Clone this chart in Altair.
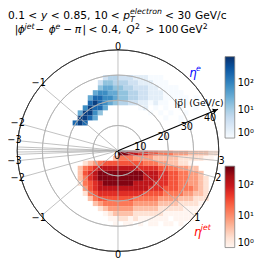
import math
import altair as alt
import pandas as pd

# ---------------- data ----------------
# 2D histogram cells: columns are 2 GeV wide in p_z starting at -20 GeV,
# rows are 2 GeV high in p_T.  Each row: (pT lower edge, first column, level digits)
ELECTRON_ROWS = [
    (10, 1, "898000000000000000000101"),
    (12, 2, "99860000000000000100100"),
    (14, 2, "699750000000001010100100"),
    (16, 3, "79886000000120101001001"),
    (18, 4, "898765443322121101010"),
    (20, 4, "688776554433222111110101"),
    (22, 5, "677665544332221111"),
    (24, 6, "5665544333221111"),
    (26, 6, "35544433222111"),
    (28, 7, "344333222111"),
]
JET_ROWS = [
    (0, 10, "99887766555444333322"),
    (2, 9, "35554444333332222211"),
    (4, 3, "2345666666665554433221"),
    (6, 2, "356788888888777766554433"),
    (8, 2, "3678999999999888776655443"),
    (10, 2, "35789999999998887766554432"),
    (12, 2, "25678999999888877766554432"),
    (14, 3, "4678888888888777666555432"),
    (16, 3, "2567777777776666555544332"),
    (18, 4, "356666666555554444333222"),
    (20, 5, "34555555444443333222211"),
    (22, 6, "23444443333322222111111"),
    (24, 7, "1233332222221111111011"),
    (26, 8, "11221211111101111011"),
    (28, 9, "101101011011010"),
]
ELECTRON_LEVEL_COUNTS = [0, 1, 2, 4, 8, 16, 35, 80, 200, 600]
JET_LEVEL_COUNTS = [0, 1, 2, 4, 8, 16, 30, 60, 120, 300]
E_CMAX = 890
J_CMAX = 420
CBAR_TICKS = [1, 10, 100]

UPPER_GRID_ETA = [0, -1, -2, -3, -4, -5]
LOWER_GRID_ETA = [0, -1, -2, -3, -4, -5, 1, 2, 3, 4, 5]
UPPER_ETA_LABELS = [0, -1, -2, -3]
LOWER_ETA_LABELS = [0, -1, -2, -3, 1, 2, 3]
RING_P = [10, 20, 30]
OUTER_P = [40]
P_TICKS = [0, 10, 20, 30, 40]

BLUES = ["#f7fbff", "#deebf7", "#c6dbef", "#9ecae1", "#6baed6",
         "#4292c6", "#2171b5", "#08519c", "#08306b"]
REDS = ["#fff5f0", "#fee0d2", "#fcbba1", "#fc9272", "#fb6a4a",
        "#ef3b2c", "#cb181d", "#a50f15", "#67000d"]

# ---------------- layout constants ----------------
W, H = 258, 264          # plot area (whole drawing)
CX, CY = 113.5, 143      # pole position in pixels
K = 2.6                  # pixels per GeV
CELL = 2.0
PZ_START = -20.0
R_MAX = 40.0
LABEL_R = 41.3
AXIS_DEG = 22.5
AXIS_END = 43.0
FONT = "DejaVu Sans"

xs = alt.Scale(domain=[-CX / K, (W - CX) / K], nice=False, zero=False)
ys = alt.Scale(domain=[(CY - H) / K, CY / K], nice=False, zero=False)
rs = alt.Scale(type="linear", domain=[0, R_MAX], range=[0, R_MAX * K], zero=True, nice=False)


def build_cells(rows, counts, sign):
    recs = []
    for pt0, c0, digits in rows:
        for j, d in enumerate(digits):
            lv = int(d)
            if lv == 0:
                continue
            pz0 = PZ_START + (c0 + j) * CELL
            cxm, cym = pz0 + CELL / 2, pt0 + CELL / 2
            if cxm * cxm + cym * cym > R_MAX * R_MAX:
                continue
            recs.append(dict(x=pz0, x2=pz0 + CELL, y=sign * pt0,
                             y2=sign * (pt0 + CELL), count=counts[lv]))
    return pd.DataFrame(recs)


def stops(vmax, n):
    lg = math.log10(vmax)
    return [10 ** (lg * i / (n - 1)) for i in range(n)]


SUP = "datum.value == 1 ? '10⁰' : datum.value == 10 ? '10¹' : '10²'"


def legend(ly):
    return alt.Legend(orient="none", legendX=224, legendY=ly, direction="vertical",
                      gradientLength=84, gradientThickness=10, title=None,
                      values=CBAR_TICKS, labelExpr=SUP, labelFontSize=10,
                      labelFont=FONT, labelColor="black", gradientStrokeColor="#7f7f7f",
                      gradientStrokeWidth=0.8, padding=0, labelOffset=3,
                      labelBaseline="middle", labelOverlap=False)


def cell_layer(rows, counts, sign, cmax, colors, ly):
    return alt.Chart(build_cells(rows, counts, sign)).mark_rect(
        stroke=None, strokeWidth=0).encode(
        x=alt.X("x:Q", scale=xs, axis=None), x2="x2:Q",
        y=alt.Y("y:Q", scale=ys, axis=None), y2="y2:Q",
        color=alt.Color("count:Q", scale=alt.Scale(type="log", domain=stops(cmax, 9), range=colors),
                        legend=legend(ly)))


def rings(vals, color, width):
    return alt.Chart(pd.DataFrame({"p": vals, "z": [0] * len(vals)})).mark_arc(
        filled=False, stroke=color, strokeWidth=width).encode(
        x=alt.X("z:Q", scale=xs, axis=None), y=alt.Y("z:Q", scale=ys, axis=None),
        radius=alt.Radius("p:Q", scale=rs), radius2="p:Q",
        theta=alt.value(0), theta2=alt.value(2 * math.pi))


def spokes(etas, sign):
    return alt.Chart(pd.DataFrame({"eta": etas})).transform_calculate(
        th="2*atan(exp(-datum.eta))", x0="0", y0="0"
    ).transform_calculate(
        x1=f"{R_MAX}*cos(datum.th)", y1=f"{sign}*{R_MAX}*sin(datum.th)"
    ).mark_rule(color="#b0b0b0", strokeWidth=0.8).encode(
        x=alt.X("x0:Q", scale=xs, axis=None), y=alt.Y("y0:Q", scale=ys, axis=None),
        x2="x1:Q", y2="y1:Q")


def eta_labels(etas, sign):
    return alt.Chart(pd.DataFrame({"eta": etas})).transform_calculate(
        th="2*atan(exp(-datum.eta))", lab="format(datum.eta, 'd')"
    ).transform_calculate(
        lx=f"{LABEL_R}*cos(datum.th)", ly=f"{sign}*{LABEL_R}*sin(datum.th)"
    ).mark_text(font=FONT, fontSize=10, align="center", baseline="middle", color="black").encode(
        x=alt.X("lx:Q", scale=xs, axis=None), y=alt.Y("ly:Q", scale=ys, axis=None), text="lab:N")


rad = math.radians(AXIS_DEG)
p_labels = alt.Chart(pd.DataFrame({"p": P_TICKS})).transform_calculate(
    px=f"datum.p*{math.cos(rad)}", py=f"datum.p*{math.sin(rad)}", lab="format(datum.p, 'd')"
).mark_text(font=FONT, fontSize=10, align="center", baseline="middle", dy=6, dx=-1).encode(
    x=alt.X("px:Q", scale=xs, axis=None), y=alt.Y("py:Q", scale=ys, axis=None), text="lab:N")

axis_line = alt.Chart(pd.DataFrame({"r": [AXIS_END]})).transform_calculate(
    x0="0", y0="0", x1=f"datum.r*{math.cos(rad)}", y1=f"datum.r*{math.sin(rad)}"
).mark_rule(color="black", strokeWidth=1.1).encode(
    x=alt.X("x0:Q", scale=xs, axis=None), y=alt.Y("y0:Q", scale=ys, axis=None),
    x2="x1:Q", y2="y1:Q")

arrow = alt.Chart(pd.DataFrame({"r": [AXIS_END - 1.2]})).transform_calculate(
    x1=f"datum.r*{math.cos(rad)}", y1=f"datum.r*{math.sin(rad)}"
).mark_point(shape="triangle-right", filled=True, color="black", size=30,
             angle=360 - AXIS_DEG, opacity=1).encode(
    x=alt.X("x1:Q", scale=xs, axis=None), y=alt.Y("y1:Q", scale=ys, axis=None))

ONE = pd.DataFrame({"t": [0]})


def txt(s, x, y, size=11, italic=False, color="black", align="left", baseline="alphabetic"):
    return alt.Chart(ONE).mark_text(
        text=s, font=FONT, fontSize=size, fontStyle="italic" if italic else "normal",
        color=color, align=align, baseline=baseline).encode(
        x=alt.value(x), y=alt.value(y))


# title pieces (pixel positions within the drawing)
B1, S1, D1 = 7, 2, 10
B2, S2 = 22, 17
title = [
    txt("0.1", 0, B1), txt("<", 21, B1), txt("y", 34, B1, italic=True), txt("<", 44, B1),
    txt("0.85,", 57, B1), txt("10", 89, B1), txt("<", 106, B1),
    txt("p", 119, B1, italic=True), txt("T", 126, D1, size=8, italic=True),
    txt("electron", 126, S1, size=8, italic=True),
    txt("<", 162, B1), txt("30", 175, B1), txt("GeV/c", 193, B1),
    txt("|", 7, B2), txt("ϕ", 10, B2, italic=True), txt("jet", 17, S2, size=8, italic=True),
    txt("−", 28, B2), txt("ϕ", 42, B2, italic=True), txt("e", 49, S2, size=8, italic=True),
    txt("−", 57, B2), txt("π", 69, B2, italic=True), txt("|", 77, B2), txt("<", 83, B2),
    txt("0.4,", 96, B2), txt("Q", 122, B2, italic=True), txt("2", 131, S2, size=8),
    txt(">", 142, B2), txt("100", 155, B2), txt("GeV", 178, B2), txt("2", 201, S2, size=8),
]

annot = [
    txt("η", 187, 67, size=12, italic=True, color="blue"),
    txt("e", 194, 61, size=8, italic=True, color="blue"),
    txt("η", 192, 231, size=12, italic=True, color="red"),
    txt("jet", 199, 225, size=8, italic=True, color="red"),
    txt("|p⃗| (GeV/c)", 197, 94, size=9.5, align="center", baseline="middle"),
]

chart = alt.layer(
    cell_layer(ELECTRON_ROWS, ELECTRON_LEVEL_COUNTS, 1, E_CMAX, BLUES, 46),
    cell_layer(JET_ROWS, JET_LEVEL_COUNTS, -1, J_CMAX, REDS, 159),
    rings(RING_P, "#b0b0b0", 0.8),
    spokes(UPPER_GRID_ETA, 1), spokes(LOWER_GRID_ETA, -1),
    rings(OUTER_P, "#333333", 0.9),
    eta_labels(UPPER_ETA_LABELS, 1), eta_labels(LOWER_ETA_LABELS, -1),
    axis_line, arrow, p_labels,
    *title, *annot,
).resolve_scale(color="independent").properties(
    width=W, height=H, padding=0,
    autosize=alt.AutoSizeParams(type="none"),
).configure_view(stroke=None)

chart.save("out.html", embed_options={"renderer": "svg", "actions": False})
